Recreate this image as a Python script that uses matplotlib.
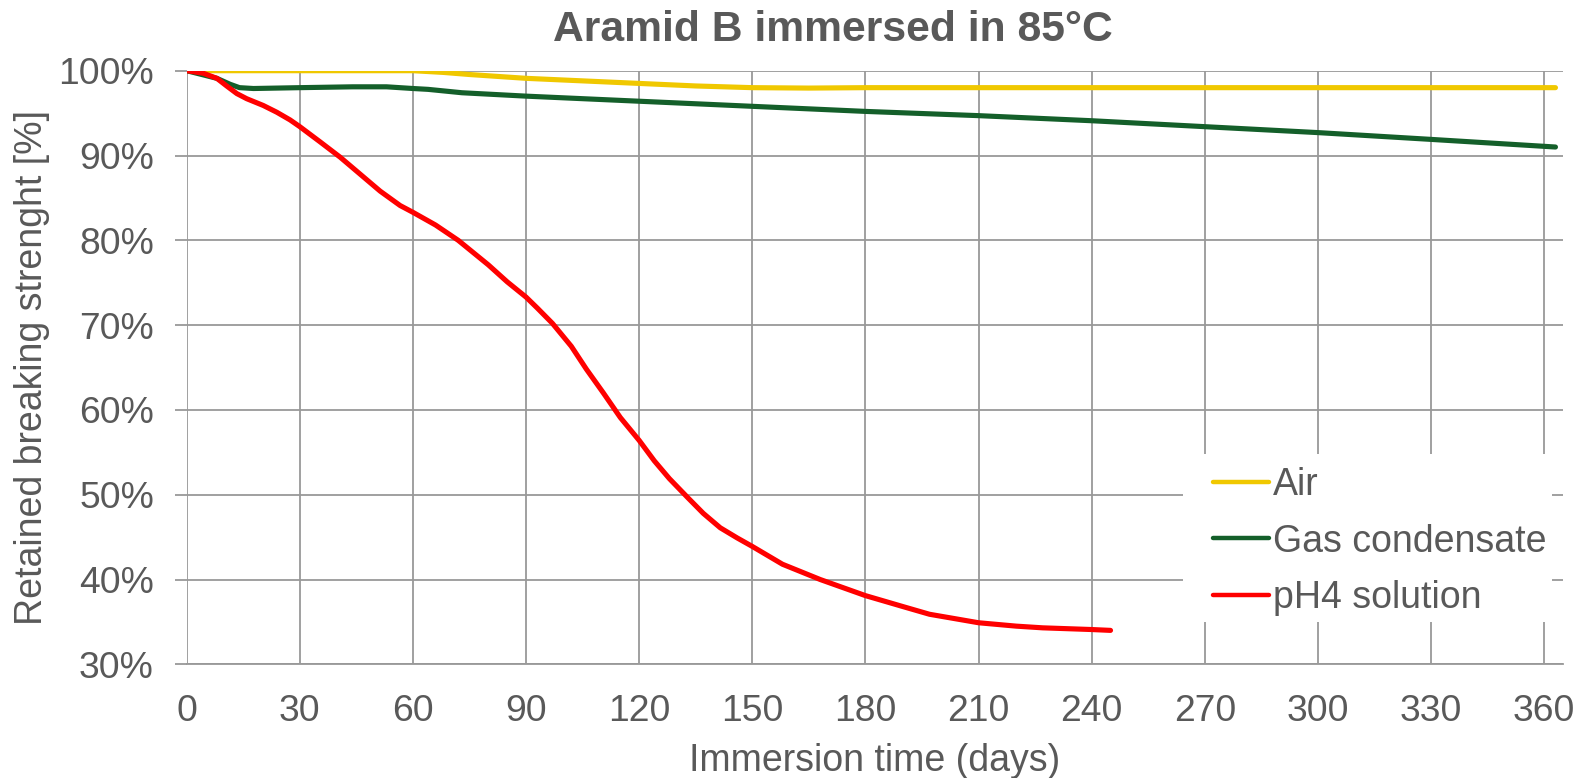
import matplotlib
matplotlib.use("Agg")
import matplotlib.pyplot as plt
from matplotlib.patches import Rectangle
from matplotlib.ticker import FuncFormatter

plt.rcParams['font.family'] = ['Liberation Sans', 'DejaVu Sans']

# ---- data ----
air_days = [0, 30, 60, 68, 75, 90, 105, 120, 135, 150, 165, 180, 240, 300, 363]
air_vals = [100, 100, 100, 99.8, 99.55, 99.1, 98.8, 98.5, 98.2, 98.0, 97.95, 98.0, 98.0, 98.0, 98.0]

gas_days = [0, 8, 11.5, 14, 17.7, 30, 44, 53, 60, 64, 73, 90, 120, 150, 180, 210, 240, 270, 300, 330, 363]
gas_vals = [100, 99.1, 98.4, 98.0, 97.9, 98.0, 98.1, 98.1, 97.9, 97.8, 97.4, 97.0, 96.4, 95.8, 95.2,
            94.7, 94.1, 93.4, 92.7, 91.9, 91.0]

ph4_days = [0, 4.4, 8, 10.6, 13.3, 15.9, 20.3, 23.9, 27.4, 30, 35.4, 40.7, 46, 51.3, 56.6, 60,
            66, 72, 80, 85, 90, 93, 97, 102, 106, 110.5, 115, 120, 124, 128, 133, 137, 141.5,
            146, 150, 158, 168, 180, 190, 197, 210, 220, 227, 240, 245]
ph4_vals = [100, 99.7, 99.1, 98.2, 97.3, 96.7, 95.9, 95.1, 94.2, 93.4, 91.6, 89.8, 87.8, 85.8,
            84.1, 83.3, 81.8, 80.0, 77.1, 75.1, 73.3, 72.0, 70.2, 67.5, 64.8, 62.0, 59.1, 56.4,
            54.0, 51.9, 49.6, 47.8, 46.1, 44.9, 43.9, 41.8, 40.0, 38.1, 36.8, 35.9, 34.9, 34.5,
            34.3, 34.1, 34.0]

series_labels = ["Air", "Gas condensate", "pH4 solution"]
series_colors = ["#F0C800", "#145F2A", "#FF0000"]

x_ticks = list(range(0, 361, 30))
y_ticks = list(range(30, 101, 10))

title = "Aramid B immersed in 85°C"
x_label = "Immersion time (days)"
y_label = "Retained breaking strenght [%]"

# ---- figure ----
W, H = 1583, 778
fig = plt.figure(figsize=(W / 100, H / 100), dpi=100)
ax = fig.add_axes([186.7 / W, 1 - 664.3 / H, (1563 - 186.7) / W, (664.3 - 70.7) / H])

text_col = "#595959"
grid_col = "#999999"

for d, v, lab, c in zip([air_days, gas_days, ph4_days], [air_vals, gas_vals, ph4_vals],
                        series_labels, series_colors):
    ax.plot(d, v, color=c, lw=3.7, label=lab, solid_capstyle='round',
            solid_joinstyle='round', zorder=3)

ax.set_xlim(0, 365)
ax.set_ylim(30, 100)
ax.set_xticks(x_ticks)
ax.set_yticks(y_ticks)
ax.yaxis.set_major_formatter(FuncFormatter(lambda v, p: f"{v:.0f}%"))

ax.grid(True, color=grid_col, lw=1.3, zorder=0.5)
ax.set_axisbelow(True)
for s in ['top', 'right', 'left']:
    ax.spines[s].set_visible(False)
ax.spines['bottom'].set_color(grid_col)
ax.spines['bottom'].set_linewidth(1.3)

ax.tick_params(axis='x', length=0, pad=21.5, labelsize=26.8, labelcolor=text_col)
ax.tick_params(axis='y', length=8.6, width=1.3, color=grid_col, pad=15,
               labelsize=26.8, labelcolor=text_col)

ax.set_xlabel(x_label, fontsize=27, color=text_col, labelpad=10)
ax.set_ylabel(y_label, fontsize=27, color=text_col)
ax.yaxis.set_label_coords((50.3 - 186.7) / (1563 - 186.7), 0.5)

fig.text(833 / W, 1 - 40.7 / H, title, ha='center', va='baseline',
         fontsize=30.7, fontweight='bold', color=text_col)

# white legend background
ax.add_patch(Rectangle((1183 / W, 1 - 622 / H), (1552 - 1183) / W, (622 - 454) / H,
                       transform=fig.transFigure, facecolor='white', edgecolor='none',
                       zorder=1.5, clip_on=False))

leg = ax.legend(loc='upper left', bbox_to_anchor=(1213 / W, 1 - 467 / H),
                bbox_transform=fig.transFigure, frameon=False, fontsize=27,
                handlelength=1.49, handletextpad=0.11, labelspacing=0.547,
                borderpad=0, borderaxespad=0)
for t in leg.get_texts():
    t.set_color(text_col)
for l in leg.get_lines():
    l.set_linewidth(3.2)
leg.set_zorder(5)

fig.savefig("out.png", dpi=100)
